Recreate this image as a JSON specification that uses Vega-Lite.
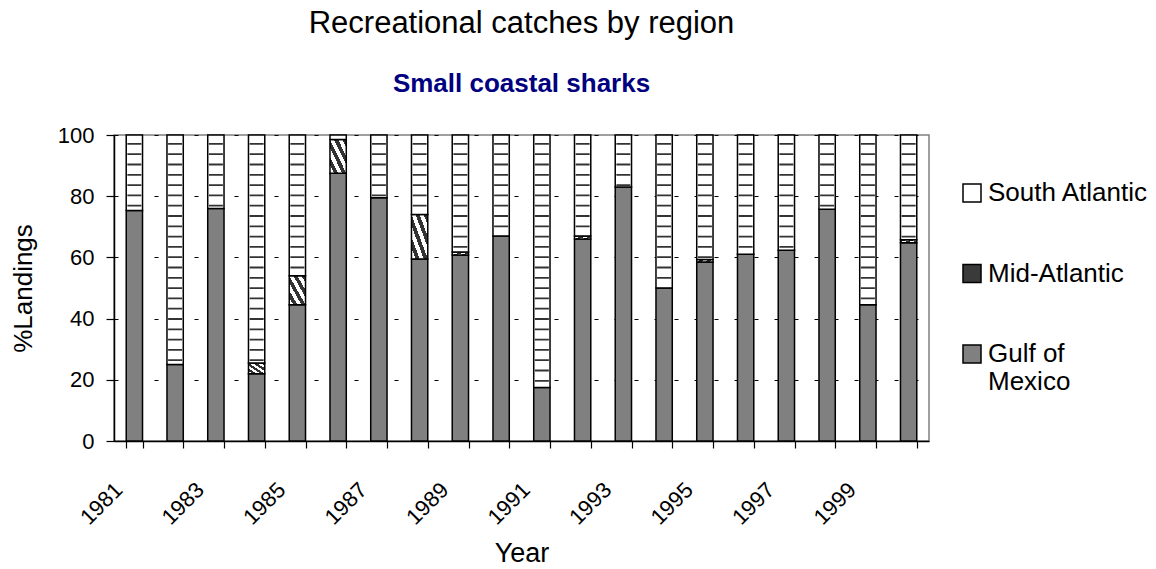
{
  "$schema": "https://vega.github.io/schema/vega-lite/v6.json",
  "width": 815,
  "height": 306,
  "autosize": {"type": "none"},
  "padding": {"left": 114, "top": 135, "right": 227, "bottom": 128},
  "background": "white",
  "config": {
    "font": "Liberation Sans",
    "view": {"stroke": "#808080", "strokeWidth": 1.5}
  },
  "title": {
    "text": "Recreational catches by region",
    "subtitle": "Small coastal sharks",
    "anchor": "middle",
    "font": "Liberation Sans",
    "fontSize": 31,
    "fontWeight": "normal",
    "color": "black",
    "subtitleFont": "Liberation Sans",
    "subtitleFontSize": 26,
    "subtitleFontWeight": "bold",
    "subtitleColor": "#000080",
    "subtitlePadding": 31,
    "offset": 26
  },
  "data": {
    "values": [
      {"year": 1981, "region": "Gulf of Mexico", "value": 75.3},
      {"year": 1981, "region": "South Atlantic", "value": 24.7},
      {"year": 1982, "region": "Gulf of Mexico", "value": 25},
      {"year": 1982, "region": "South Atlantic", "value": 75},
      {"year": 1983, "region": "Gulf of Mexico", "value": 76},
      {"year": 1983, "region": "South Atlantic", "value": 24},
      {"year": 1984, "region": "Gulf of Mexico", "value": 22},
      {"year": 1984, "region": "Mid-Atlantic", "value": 3.5},
      {"year": 1984, "region": "South Atlantic", "value": 74.5},
      {"year": 1985, "region": "Gulf of Mexico", "value": 44.5},
      {"year": 1985, "region": "Mid-Atlantic", "value": 9.5},
      {"year": 1985, "region": "South Atlantic", "value": 46},
      {"year": 1986, "region": "Gulf of Mexico", "value": 87.5},
      {"year": 1986, "region": "Mid-Atlantic", "value": 11},
      {"year": 1986, "region": "South Atlantic", "value": 1.5},
      {"year": 1987, "region": "Gulf of Mexico", "value": 79.5},
      {"year": 1987, "region": "South Atlantic", "value": 20.5},
      {"year": 1988, "region": "Gulf of Mexico", "value": 59.5},
      {"year": 1988, "region": "Mid-Atlantic", "value": 14.5},
      {"year": 1988, "region": "South Atlantic", "value": 26},
      {"year": 1989, "region": "Gulf of Mexico", "value": 60.8},
      {"year": 1989, "region": "Mid-Atlantic", "value": 1},
      {"year": 1989, "region": "South Atlantic", "value": 38.2},
      {"year": 1990, "region": "Gulf of Mexico", "value": 67},
      {"year": 1990, "region": "South Atlantic", "value": 33},
      {"year": 1991, "region": "Gulf of Mexico", "value": 17.5},
      {"year": 1991, "region": "South Atlantic", "value": 82.5},
      {"year": 1992, "region": "Gulf of Mexico", "value": 66},
      {"year": 1992, "region": "Mid-Atlantic", "value": 1},
      {"year": 1992, "region": "South Atlantic", "value": 33},
      {"year": 1993, "region": "Gulf of Mexico", "value": 83},
      {"year": 1993, "region": "South Atlantic", "value": 17},
      {"year": 1994, "region": "Gulf of Mexico", "value": 50},
      {"year": 1994, "region": "South Atlantic", "value": 50},
      {"year": 1995, "region": "Gulf of Mexico", "value": 58.5},
      {"year": 1995, "region": "Mid-Atlantic", "value": 0.8},
      {"year": 1995, "region": "South Atlantic", "value": 40.7},
      {"year": 1996, "region": "Gulf of Mexico", "value": 61},
      {"year": 1996, "region": "South Atlantic", "value": 39},
      {"year": 1997, "region": "Gulf of Mexico", "value": 62.3},
      {"year": 1997, "region": "South Atlantic", "value": 37.7},
      {"year": 1998, "region": "Gulf of Mexico", "value": 75.7},
      {"year": 1998, "region": "South Atlantic", "value": 24.3},
      {"year": 1999, "region": "Gulf of Mexico", "value": 44.5},
      {"year": 1999, "region": "South Atlantic", "value": 55.5},
      {"year": 2000, "region": "Gulf of Mexico", "value": 64.8},
      {"year": 2000, "region": "Mid-Atlantic", "value": 1},
      {"year": 2000, "region": "South Atlantic", "value": 34.2}
    ]
  },
  "transform": [
    {
      "stack": "value",
      "groupby": ["year"],
      "sort": [{"field": "region", "order": "ascending"}],
      "as": ["y0", "y1"]
    }
  ],
  "encoding": {
    "x": {
      "field": "year",
      "type": "ordinal",
      "scale": {"paddingInner": 0.6, "paddingOuter": 0.3},
      "axis": {
        "title": "Year",
        "titleFont": "Liberation Sans",
        "titleFontSize": 27,
        "titleFontWeight": "normal",
        "titleColor": "black",
        "titlePadding": 12,
        "labelFont": "Liberation Sans",
        "labelFontSize": 22,
        "labelColor": "black",
        "labelAngle": -45,
        "labelAlign": "right",
        "labelBaseline": "middle",
        "labelOffset": -16,
        "labelPadding": 38,
        "labelExpr": "toNumber(datum.value) % 2 == 1 ? datum.label : ''",
        "tickBand": "extent",
        "tickSize": 7,
        "tickColor": "black",
        "tickWidth": 1.2,
        "domainColor": "black",
        "domainWidth": 1.5,
        "grid": false
      }
    },
    "y": {
      "field": "y1",
      "type": "quantitative",
      "scale": {"domain": [0, 100], "nice": false},
      "axis": {
        "title": "%Landings",
        "titleFont": "Liberation Sans",
        "titleFontSize": 26,
        "titleFontWeight": "normal",
        "titleColor": "black",
        "titlePadding": 21,
        "values": [0, 20, 40, 60, 80, 100],
        "labelFont": "Liberation Sans",
        "labelFontSize": 22,
        "labelColor": "black",
        "labelPadding": 12,
        "tickSize": 8,
        "tickColor": "black",
        "tickWidth": 1.2,
        "domainColor": "black",
        "domainWidth": 1.5,
        "grid": true,
        "gridColor": "black",
        "gridDash": [4, 16],
        "gridWidth": 1
      }
    },
    "y2": {"field": "y0"}
  },
  "layer": [
    {
      "transform": [{"filter": "datum.region == 'Gulf of Mexico'"}],
      "mark": {"type": "bar", "stroke": "black", "strokeWidth": 1.5},
      "encoding": {
        "fill": {
          "field": "region",
          "type": "nominal",
          "scale": {
            "domain": ["South Atlantic", "Mid-Atlantic", "Gulf of Mexico"],
            "range": ["white", "#3a3a3a", "#808080"]
          },
          "legend": {
            "orient": "none",
            "legendX": 845,
            "legendY": 45,
            "title": null,
            "symbolType": "square",
            "symbolSize": 324,
            "symbolStrokeColor": "black",
            "symbolStrokeWidth": 1.5,
            "symbolOpacity": 1,
            "labelFont": "Liberation Sans",
            "labelFontSize": 26,
            "labelColor": "black",
            "labelOffset": 3,
            "labelLimit": 300,
            "rowPadding": 54.5,
            "labelExpr": "datum.label == 'Gulf of Mexico' ? ['Gulf of', 'Mexico'] : datum.label"
          }
        }
      }
    },
    {
      "transform": [{"filter": "datum.region == 'Mid-Atlantic'"}],
      "mark": {
        "type": "bar",
        "stroke": "black",
        "strokeWidth": 1.5,
        "fill": {
          "gradient": "linear",
          "x1": 0, "y1": 1, "x2": 1, "y2": 0,
          "stops": [
            {"offset": 0, "color": "white"},
            {"offset": 0.125, "color": "white"},
            {"offset": 0.125, "color": "#333333"},
            {"offset": 0.25, "color": "#333333"},
            {"offset": 0.25, "color": "white"},
            {"offset": 0.375, "color": "white"},
            {"offset": 0.375, "color": "#333333"},
            {"offset": 0.5, "color": "#333333"},
            {"offset": 0.5, "color": "white"},
            {"offset": 0.625, "color": "white"},
            {"offset": 0.625, "color": "#333333"},
            {"offset": 0.75, "color": "#333333"},
            {"offset": 0.75, "color": "white"},
            {"offset": 0.875, "color": "white"},
            {"offset": 0.875, "color": "#333333"},
            {"offset": 1, "color": "#333333"}
          ]
        }
      }
    },
    {
      "transform": [{"filter": "datum.region == 'South Atlantic'"}],
      "mark": {"type": "bar", "stroke": "black", "strokeWidth": 1.5, "fill": "white"}
    },
    {
      "transform": [{"filter": "datum.region == 'South Atlantic'"}],
      "mark": {
        "type": "rule",
        "color": "#333333",
        "strokeWidth": 14,
        "strokeDash": [1.8, 8.5],
        "strokeDashOffset": -8
      }
    }
  ]
}
